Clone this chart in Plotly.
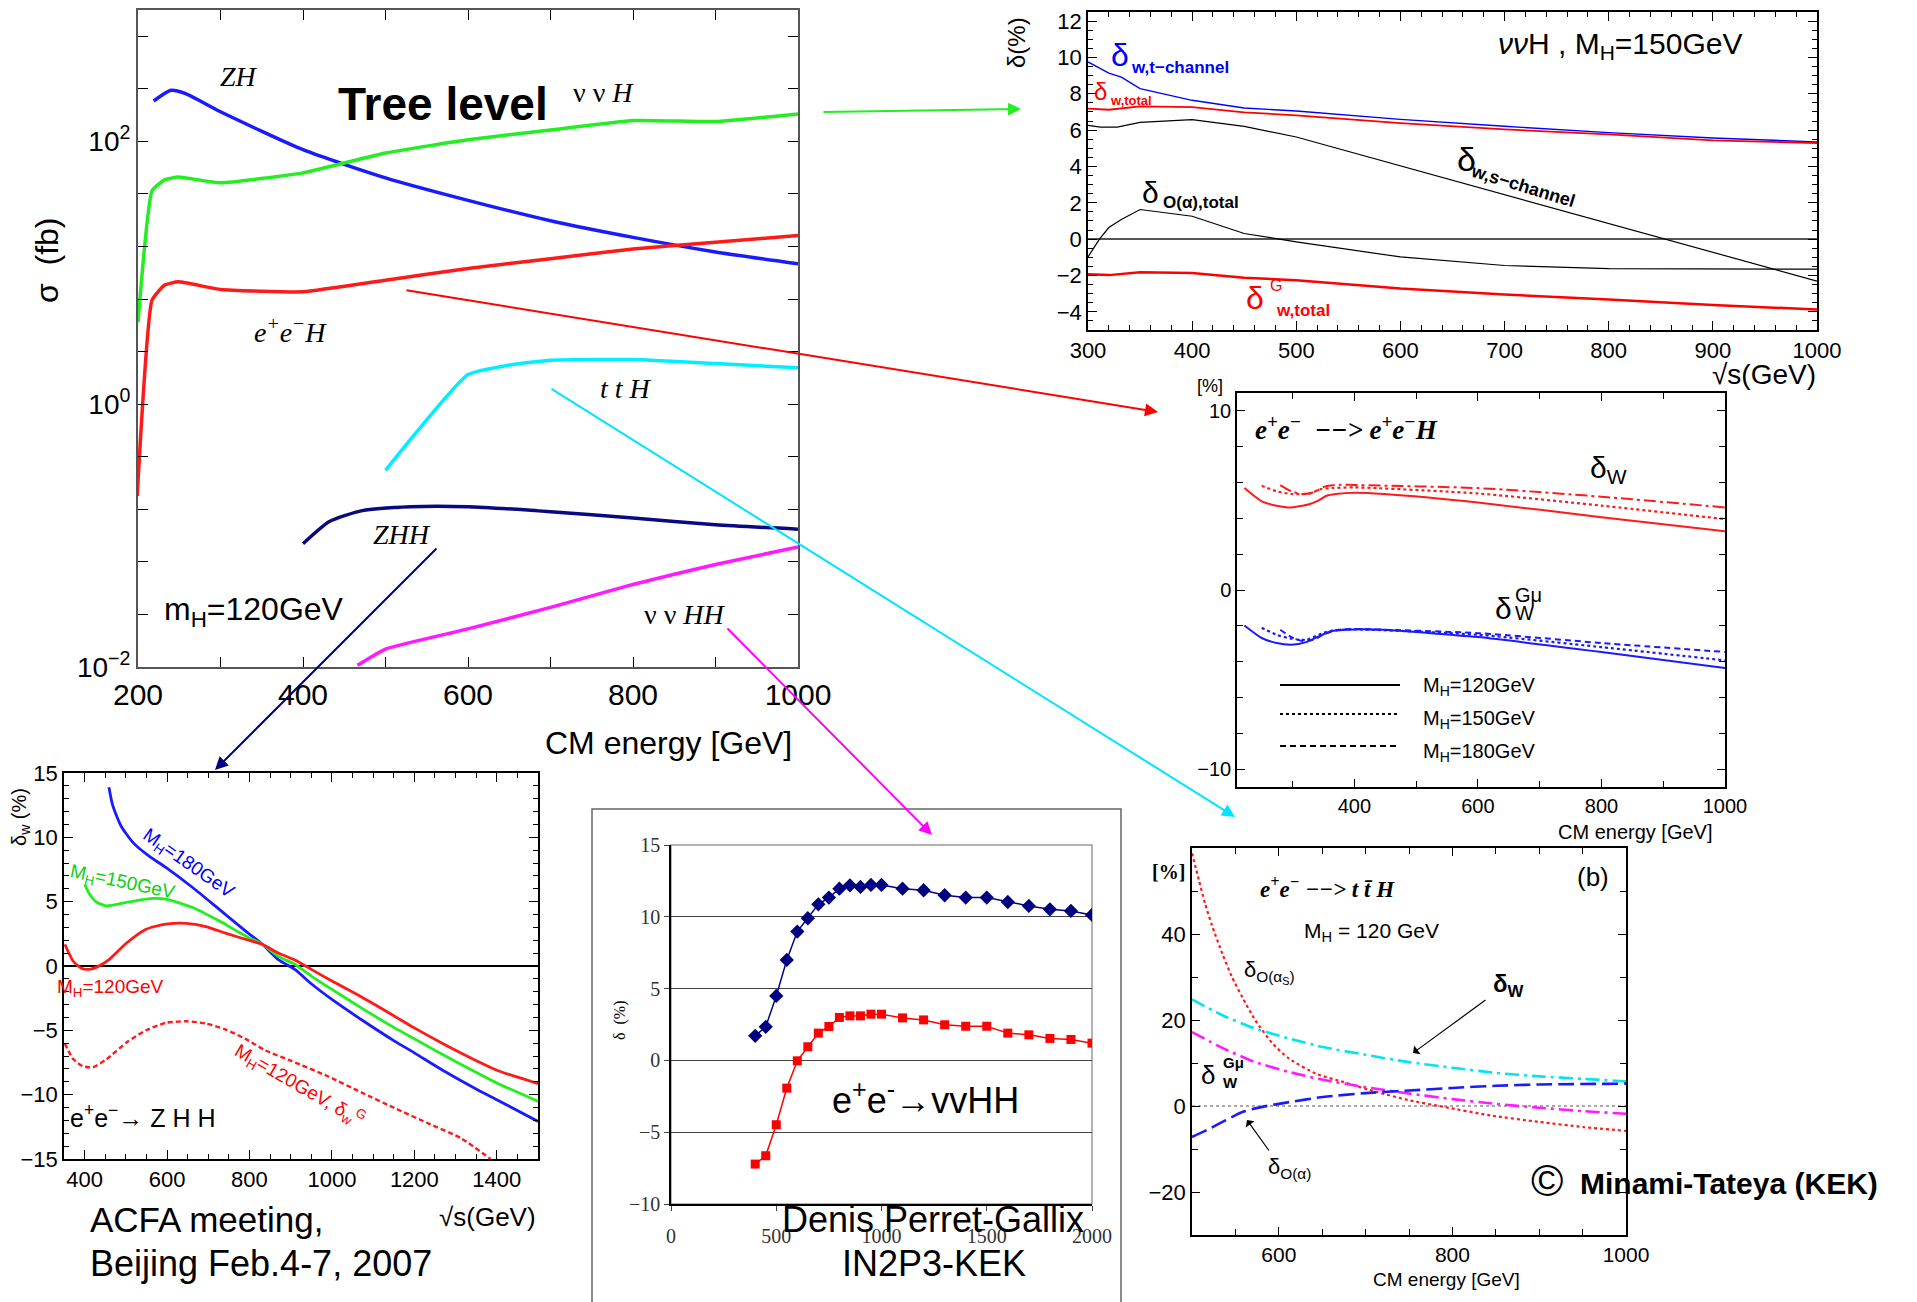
import plotly.graph_objects as go

W, H = 1917, 1302
SANS = "Liberation Sans, Arial, Helvetica, sans-serif"
NARROW = "Liberation Sans Narrow, Arial Narrow, Liberation Sans, Arial, sans-serif"
SERIF = "Liberation Serif, Times New Roman, Times, serif"

# ---------- Panel A: tree-level cross sections sigma (fb), m_H = 120 GeV ----------
zh_e = [219, 240, 257, 300, 400, 500, 600, 700, 800, 900, 1000]
zh_sig = [203, 245, 232, 168, 86.5, 52.8, 35.6, 24.9, 18.6, 14.4, 11.7]
nnh_e = [200, 217, 232, 249, 300, 400, 500, 600, 700, 800, 900, 1000]
nnh_sig = [4.2, 42, 51, 53.5, 48.4, 57.6, 81.6, 103, 122, 144, 141.6, 162]
eeh_e = [199, 217, 232, 249, 300, 400, 500, 600, 700, 800, 900, 1000]
eeh_sig = [0.2, 6.2, 8.05, 8.53, 7.47, 7.17, 8.78, 10.8, 12.8, 15.2, 17.1, 19.2]
tth_e = [500, 600, 653, 700, 800, 900, 1000]
tth_sig = [0.314, 1.68, 2.0, 2.16, 2.19, 2.04, 1.89]
zhh_e = [400, 432, 472, 530, 600, 700, 800, 900, 1000]
zhh_sig = [0.0867, 0.128, 0.155, 0.166, 0.166, 0.152, 0.136, 0.121, 0.112]
nnhh_e = [466, 500, 600, 700, 800, 900, 1000]
nnhh_sig = [0.0103, 0.0137, 0.0195, 0.0284, 0.0425, 0.0603, 0.0819]
sigma_tick_exp = [-2, -1.6, -1.2, -0.8, -0.4, 0, 0.4, 0.8, 1.2, 1.6, 2, 2.4, 2.8]
sigma_tick_text = ["10<sup>−2</sup>", "", "", "", "", "10<sup>0</sup>", "", "", "", "", "10<sup>2</sup>", "", ""]

# ---------- Panel B: nu nu H, M_H = 150 GeV (%) ----------
tch_e = [300, 320, 332, 350, 400, 450, 500, 600, 700, 800, 900, 1000]
tch_d = [9.75, 9.14, 8.92, 8.28, 7.64, 7.22, 7.05, 6.59, 6.21, 5.86, 5.57, 5.35]
wtot_e = [300, 320, 350, 400, 450, 500, 600, 700, 800, 900, 1000]
wtot_d = [7.18, 7.12, 7.31, 7.27, 6.98, 6.81, 6.39, 6.04, 5.77, 5.44, 5.29]
sch_e = [300, 312, 328, 350, 400, 450, 500, 600, 700, 800, 900, 1000]
sch_d = [6.26, 6.17, 6.17, 6.43, 6.58, 6.21, 5.62, 4.03, 2.43, 0.86, -0.76, -2.31]
oa_e = [300, 311, 320, 332, 350, 400, 450, 500, 600, 700, 800, 900, 1000]
oa_d = [-0.98, 0.0, 0.64, 1.08, 1.63, 1.26, 0.31, -0.15, -0.98, -1.45, -1.62, -1.65, -1.65]
gtot_e = [300, 320, 350, 400, 450, 500, 600, 700, 800, 900, 1000]
gtot_d = [-1.93, -1.98, -1.82, -1.86, -2.13, -2.26, -2.72, -3.05, -3.32, -3.63, -3.87]

# ---------- Panel C: e+e- -> e+e-H (%) ----------
c_r120_e = [222, 250, 274, 298, 328, 343, 355, 370, 400, 448, 600, 800, 1000]
c_r120_d = [5.69, 4.95, 4.71, 4.61, 4.80, 5.02, 5.26, 5.36, 5.43, 5.36, 4.89, 4.06, 3.28]
c_r150_e = [250, 274, 298, 328, 346, 364, 400, 600, 800, 1000]
c_r150_d = [5.82, 5.51, 5.36, 5.39, 5.64, 5.69, 5.73, 5.39, 4.71, 3.96]
c_r180_e = [280, 298, 316, 334, 352, 376, 400, 600, 800, 1000]
c_r180_d = [5.86, 5.51, 5.36, 5.45, 5.77, 5.88, 5.86, 5.69, 5.21, 4.61]
c_b120_e = [222, 250, 274, 298, 322, 346, 364, 400, 448, 600, 800, 1000]
c_b120_d = [-1.98, -2.68, -2.96, -3.06, -2.91, -2.53, -2.29, -2.20, -2.22, -2.63, -3.46, -4.36]
c_b150_e = [250, 274, 298, 322, 346, 364, 400, 600, 800, 1000]
c_b150_d = [-2.11, -2.50, -2.72, -2.78, -2.44, -2.26, -2.20, -2.50, -3.19, -3.93]
c_b180_e = [280, 298, 316, 334, 352, 376, 400, 600, 800, 1000]
c_b180_d = [-2.22, -2.63, -2.85, -2.78, -2.44, -2.22, -2.18, -2.41, -2.96, -3.46]
legend_labels = ["M<sub>H</sub>=120GeV", "M<sub>H</sub>=150GeV", "M<sub>H</sub>=180GeV"]

# ---------- Panel D: e+e- -> ZHH (%) ----------
d180_e = [459, 468, 488, 517, 553, 597, 662, 726, 790, 831, 871, 910, 950, 1000,
          1071, 1152, 1200, 1273, 1353, 1400, 1500]
d180_d = [13.9, 12.5, 10.9, 9.61, 8.62, 7.66, 6.10, 4.42, 2.73, 1.69, 0.47, -0.26, -1.38, -2.60,
          -4.16, -5.84, -6.75, -8.18, -9.61, -10.39, -12.08]
d150_e = [400, 412, 428, 452, 501, 565, 597, 662, 726, 790, 831, 871, 910, 950, 1000,
          1071, 1152, 1200, 1273, 1353, 1400, 1500]
d150_d = [6.36, 5.58, 4.99, 4.68, 4.94, 5.25, 5.19, 4.55, 3.51, 2.34, 1.69, 0.73, 0.13, -0.78, -1.82,
          -3.25, -4.81, -5.66, -6.96, -8.31, -9.09, -10.52]
d120_e = [352, 372, 392, 412, 432, 460, 501, 549, 597, 646, 694, 742, 790, 831, 871, 910, 950, 1000,
          1071, 1152, 1200, 1273, 1353, 1400, 1500]
d120_d = [1.69, 0.39, -0.18, -0.26, -0.05, 0.52, 1.77, 2.86, 3.25, 3.32, 3.06, 2.55, 2.08, 1.69, 0.99,
          0.47, -0.26, -1.17, -2.39, -3.90, -4.81, -6.10, -7.40, -8.10, -9.14]
d120g_e = [352, 372, 396, 420, 452, 501, 549, 597, 646, 694, 742, 790, 839, 903, 990,
           1071, 1152, 1232, 1313, 1385]
d120g_d = [-6.03, -7.22, -7.79, -7.87, -7.27, -5.97, -4.99, -4.42, -4.29, -4.47, -4.94, -5.66, -6.57,
           -7.4, -8.57, -9.82, -11.04, -12.21, -13.38, -15.0]

# ---------- Panel E: e+e- -> vvHH (%) ----------
e_e = [400, 450, 500, 550, 600, 650, 700, 750, 800, 850, 900, 950, 1000,
       1100, 1200, 1300, 1400, 1500, 1600, 1700, 1800, 1900, 2000]
e_blue = [1.71, 2.34, 4.49, 7.0, 8.97, 9.90, 10.87, 11.34, 11.96, 12.19, 12.08, 12.22, 12.22,
          11.96, 11.85, 11.50, 11.34, 11.34, 11.03, 10.76, 10.52, 10.41, 10.13]
e_red = [-7.22, -6.64, -4.48, -1.93, -0.03, 0.95, 1.90, 2.36, 2.99, 3.10, 3.10, 3.22, 3.22,
         2.96, 2.82, 2.48, 2.38, 2.38, 1.90, 1.78, 1.53, 1.46, 1.20]

# ---------- Panel F: e+e- -> ttH, M_H = 120 GeV (%) ----------
f_as_e = [500, 508, 515, 523, 535, 546, 558, 573, 593, 612, 643, 674, 712, 751, 790, 844, 900, 951, 1000]
f_as_d = [58.8, 52.5, 47.1, 42.0, 35.4, 30.0, 25.3, 19.9, 14.5, 11.0, 7.5, 5.6, 3.3, 1.3, -0.2, -2.2,
          -3.7, -4.9, -5.8]
f_w_e = [500, 535, 573, 612, 651, 700, 750, 800, 850, 900, 951, 1000]
f_w_d = [24.8, 21.1, 18.0, 15.7, 13.7, 11.9, 10.2, 8.9, 7.7, 6.9, 6.3, 5.7]
f_wg_d = [17.2, 13.5, 10.2, 7.9, 6.1, 4.4, 2.9, 1.6, 0.5, -0.4, -1.2, -1.8]
f_a_e = [500, 519, 539, 558, 581, 612, 651, 700, 750, 800, 850, 900, 1000]
f_a_d = [-7.2, -5.4, -3.3, -1.4, -0.2, 0.9, 2.1, 3.0, 3.6, 4.2, 4.7, 5.0, 5.2]


def xd(a, b):
    return [a / W, b / W]


def yd(top, bottom):
    return [1 - bottom / H, 1 - top / H]


fig = go.Figure()


def line(x, y, ax, color, width, dash="solid", shape="spline", smoothing=0.6, **kw):
    fig.add_trace(go.Scatter(x=x, y=y, xaxis="x" + ax, yaxis="y" + ax, mode="lines",
                             line=dict(color=color, width=width, dash=dash, shape=shape,
                                       smoothing=smoothing if shape == "spline" else None),
                             hoverinfo="skip", **kw))


# Panel A
line(zh_e, zh_sig, "", "#1a1aff", 3.5)
line(nnh_e, nnh_sig, "", "#22ee22", 3.5, smoothing=0.4)
line(eeh_e, eeh_sig, "", "#ff1a1a", 3.5, smoothing=0.4)
line(tth_e, tth_sig, "", "#00eeff", 3.5, smoothing=0.4)
line(zhh_e, zhh_sig, "", "#0a0a80", 3.5)
line(nnhh_e, nnhh_sig, "", "#ff1aff", 3.5, smoothing=0.4)

# Panel B
line(tch_e, tch_d, "2", "#0000ff", 1.4, shape="linear")
line(wtot_e, wtot_d, "2", "#ff0000", 1.8, shape="linear")
line(sch_e, sch_d, "2", "black", 1.2, shape="linear")
line(oa_e, oa_d, "2", "black", 1.2, shape="linear")
line(gtot_e, gtot_d, "2", "#ff0000", 2.5, shape="linear")

# Panel C
line(c_r120_e, c_r120_d, "3", "#ff1a1a", 2)
line(c_r150_e, c_r150_d, "3", "#ff1a1a", 2.2, dash="dot")
line(c_r180_e, c_r180_d, "3", "#ff1a1a", 2, dash="12px,4px,3px,4px")
line(c_b120_e, c_b120_d, "3", "#1a1aff", 2)
line(c_b150_e, c_b150_d, "3", "#1a1aff", 2.2, dash="dot")
line(c_b180_e, c_b180_d, "3", "#1a1aff", 2, dash="6px,4px")

# Panel D
line(d180_e, d180_d, "4", "#1a1aff", 2.8)
line(d150_e, d150_d, "4", "#22ee22", 2.8)
line(d120_e, d120_d, "4", "#ff1a1a", 2.8)
line(d120g_e, d120g_d, "4", "#ff1a1a", 2.4, dash="5px,3px")

# Panel E
fig.add_trace(go.Scatter(x=e_e, y=e_blue, xaxis="x5", yaxis="y5", mode="lines+markers",
                         line=dict(color="#000080", width=1.5),
                         marker=dict(symbol="diamond", size=11, color="#000080"), hoverinfo="skip"))
fig.add_trace(go.Scatter(x=e_e, y=e_red, xaxis="x5", yaxis="y5", mode="lines+markers",
                         line=dict(color="#ff0000", width=1.5),
                         marker=dict(symbol="square", size=9, color="#ff0000"), hoverinfo="skip"))

# Panel F
line(f_as_e, f_as_d, "6", "#ff1a1a", 2.2, dash="dot")
line(f_w_e, f_w_d, "6", "#00e5ee", 2.6, dash="14px,5px,3px,5px")
line(f_w_e, f_wg_d, "6", "#ff1aff", 2.6, dash="14px,5px,3px,5px")
line(f_a_e, f_a_d, "6", "#1a1aff", 2.6, dash="16px,6px")


def ax_common(**kw):
    d = dict(showline=True, linecolor="black", linewidth=1.5, mirror="ticks", ticks="inside",
             showgrid=False, zeroline=False, tickcolor="black", automargin=False)
    d.update(kw)
    return d


layout = dict(
    width=W, height=H, margin=dict(l=0, r=0, t=0, b=0, pad=0, autoexpand=False),
    paper_bgcolor="white", plot_bgcolor="rgba(0,0,0,0)", showlegend=False,
    # A
    xaxis=ax_common(domain=xd(138, 798), range=[200, 1000], anchor="y",
                    tickvals=[200, 400, 600, 800, 1000], ticklen=10, linecolor="#555", linewidth=2,
                    tickfont=dict(family=SANS, size=30, color="black"),
                    minor=dict(ticks="inside", dtick=100, ticklen=10, tickcolor="black")),
    yaxis=ax_common(domain=yd(10, 667), type="log", range=[-2, 3], anchor="x",
                    tickvals=[10 ** v for v in sigma_tick_exp], ticktext=sigma_tick_text,
                    ticklen=10, linecolor="#555", linewidth=2,
                    tickfont=dict(family=SANS, size=28, color="black")),
    # B
    xaxis2=ax_common(domain=xd(1088, 1817), range=[300, 1000], anchor="y2", dtick=100, ticklen=9,
                     tickfont=dict(family=NARROW, size=22, color="black"),
                     minor=dict(ticks="inside", dtick=20, ticklen=5, tickcolor="black")),
    yaxis2=ax_common(domain=yd(12, 330), range=[-5, 12.5], anchor="x2",
                     tickvals=[-4, -2, 0, 2, 4, 6, 8, 10, 12], ticklen=9,
                     zeroline=True, zerolinecolor="#555", zerolinewidth=1.6,
                     tickfont=dict(family=NARROW, size=22, color="black"),
                     minor=dict(ticks="inside", dtick=0.5, ticklen=5, tickcolor="black")),
    # C
    xaxis3=ax_common(domain=xd(1237, 1725), range=[210, 1000], anchor="y3",
                     tickvals=[400, 600, 800, 1000], ticklen=8,
                     tickfont=dict(family=SANS, size=20, color="black"),
                     minor=dict(ticks="inside", dtick=100, ticklen=6, tickcolor="black")),
    yaxis3=ax_common(domain=yd(393, 787), range=[-11, 11], anchor="x3",
                     tickvals=[-10, 0, 10], ticklen=8,
                     tickfont=dict(family=SANS, size=20, color="black"),
                     minor=dict(ticks="inside", dtick=2, ticklen=6, tickcolor="black")),
    # D
    xaxis4=ax_common(domain=xd(64, 538), range=[350, 1500], anchor="y4",
                     tickvals=[400, 600, 800, 1000, 1200, 1400], ticklen=9,
                     tickfont=dict(family=NARROW, size=22, color="black"),
                     minor=dict(ticks="inside", dtick=50, ticklen=5, tickcolor="black")),
    yaxis4=ax_common(domain=yd(773, 1159), range=[-15, 15], anchor="x4",
                     tickvals=[-15, -10, -5, 0, 5, 10, 15], ticklen=9,
                     zeroline=True, zerolinecolor="black", zerolinewidth=2,
                     tickfont=dict(family=NARROW, size=22, color="black"),
                     minor=dict(ticks="inside", dtick=1, ticklen=5, tickcolor="black")),
    # E
    xaxis5=dict(domain=xd(671, 1092), range=[0, 2000], anchor="y5", tickvals=[0, 500, 1000, 1500, 2000],
                showline=True, linecolor="black", linewidth=1.5, mirror=False, ticks="outside",
                ticklen=5, showgrid=False, zeroline=False, automargin=False, ticklabelstandoff=8,
                tickfont=dict(family=SERIF, size=20, color="#333")),
    yaxis5=dict(domain=yd(845, 1204), range=[-10, 15], anchor="x5", tickvals=[-10, -5, 0, 5, 10, 15],
                showline=True, linecolor="black", linewidth=1.5, mirror=False, ticks="outside",
                ticklen=5, showgrid=True, gridcolor="#444", gridwidth=1, zeroline=False, automargin=False,
                tickfont=dict(family=SERIF, size=20, color="#333")),
    # F
    xaxis6=ax_common(domain=xd(1192, 1626), range=[500, 1000], anchor="y6",
                     tickvals=[600, 800, 1000], ticklen=8,
                     tickfont=dict(family=NARROW, size=21, color="black"),
                     minor=dict(ticks="inside", dtick=50, ticklen=6, tickcolor="black")),
    yaxis6=ax_common(domain=yd(848, 1235), range=[-30, 60], anchor="x6",
                     tickvals=[-20, 0, 20, 40], ticklen=8,
                     tickfont=dict(family=NARROW, size=22, color="black"),
                     minor=dict(ticks="inside", dtick=10, ticklen=6, tickcolor="black")),
)
fig.update_layout(**layout)


def T(x, y, text, size, family=SANS, color="black", xanchor="center", yanchor="middle", angle=0):
    return dict(x=x / W, y=1 - y / H, xref="paper", yref="paper", text=text, showarrow=False,
                font=dict(size=size, color=color, family=family), xanchor=xanchor,
                yanchor=yanchor, textangle=angle)


def A(x0, y0, x1, y1, color, width=2.0, head=2, size=1.3):
    return dict(x=x1 / W, y=1 - y1 / H, xref="paper", yref="paper", ax=x0 - x1, ay=y0 - y1,
                axref="pixel", ayref="pixel", showarrow=True, arrowhead=head, arrowsize=size,
                arrowwidth=width, arrowcolor=color, text="", standoff=0)


BLUE, RED, GREEN = "#0000ff", "#ff0000", "#10d010"
anns = [
    # Panel A
    T(239, 76, "<i>ZH</i>", 28, SERIF),
    T(443, 104, "<b>Tree level</b>", 46, SANS),
    T(603, 93, "ν ν <i>H</i>", 28, SERIF),
    T(290, 330, "<i>e<sup>+</sup>e<sup>−</sup>H</i>", 28, SERIF),
    T(626, 388, "<i>t t H</i>", 28, SERIF),
    T(402, 534, "<i>ZHH</i>", 28, SERIF),
    T(254, 611, "m<sub>H</sub>=120GeV", 32, SANS),
    T(685, 614, "ν ν <i>HH</i>", 28, SERIF),
    T(47, 260, "σ  (fb)", 32, SANS, angle=-90),
    T(668, 743, "CM energy [GeV]", 32, SANS),
    # Panel B
    T(1120, 55, "δ", 32, NARROW, BLUE),
    T(1129, 67, "<b>w,t−channel</b>", 17, NARROW, BLUE, xanchor="left"),
    T(1100, 92, "δ", 24, NARROW, RED),
    T(1108, 101, "<b>w,total</b>", 13, NARROW, RED, xanchor="left"),
    T(1620, 45, "<i>νν</i>H , M<sub>H</sub>=150GeV", 30, NARROW),
    T(1466, 159, "δ", 34, NARROW),
    T(1523, 186, "<b>w,s−channel</b>", 18, NARROW, angle=17),
    T(1150, 192, "δ", 30, NARROW),
    T(1161, 203, "<b>O(α),total</b>", 17, NARROW, xanchor="left"),
    T(1255, 298, "δ", 32, NARROW, RED),
    T(1268, 285, "G", 16, NARROW, RED, xanchor="left"),
    T(1274, 311, "<b>w,total</b>", 17, NARROW, RED, xanchor="left"),
    T(1017, 43, "δ(%)", 24, NARROW, angle=-90),
    T(1818, 374, "√s(GeV)", 28, NARROW, xanchor="right"),
    # Panel C
    T(1210, 386, "[%]", 18, SANS),
    T(1253, 428, "<b><i>e<sup>+</sup>e<sup>−</sup>  −−> e<sup>+</sup>e<sup>−</sup>H</i></b>", 27, SERIF, xanchor="left"),
    T(1608, 469, "δ<sub>W</sub>", 30, SANS),
    T(1503, 608, "δ", 30, SANS),
    T(1513, 595, "Gμ", 20, SANS, xanchor="left"),
    T(1513, 613, "W", 20, SANS, xanchor="left"),
    T(1421, 686, legend_labels[0], 20, SANS, xanchor="left"),
    T(1421, 719, legend_labels[1], 20, SANS, xanchor="left"),
    T(1421, 752, legend_labels[2], 20, SANS, xanchor="left"),
    T(1635, 832, "CM energy [GeV]", 20, SANS),
    # Panel D
    T(188, 864, "M<sub>H</sub>=180GeV", 19, NARROW, BLUE, angle=35),
    T(123, 883, "M<sub>H</sub>=150GeV", 19, NARROW, GREEN, angle=12),
    T(110, 988, "M<sub>H</sub>=120GeV", 19, NARROW, RED),
    T(300, 1085, "M<sub>H</sub>=120GeV, δ<sub>w</sub><sup>G</sup>", 19, NARROW, RED, angle=30),
    T(143, 1116, "e<sup>+</sup>e<sup>−</sup>→ Z H H", 25, NARROW),
    T(20, 817, "δ<sub>w</sub> (%)", 20, NARROW, angle=-90),
    T(538, 1217, "√s(GeV)", 26, NARROW, xanchor="right"),
    T(88, 1219, "ACFA meeting,", 35, SANS, xanchor="left"),
    T(88, 1263, "Beijing Feb.4-7, 2007", 36, SANS, xanchor="left"),
    # Panel E
    T(620, 1020, "δ  (%)", 16, SERIF, angle=-90),
    T(925, 1098, "e<sup>+</sup>e<sup>-</sup>→vvHH", 36, SANS),
    T(933, 1219, "Denis Perret-Gallix", 36, SANS),
    T(934, 1263, "IN2P3-KEK", 36, SANS),
    # Panel F
    T(1168, 872, "<b>[%]</b>", 20, SERIF),
    T(1258, 887, "<b><i>e<sup>+</sup>e<sup>−</sup> −−> t t̄ H</i></b>", 23, SERIF, xanchor="left"),
    T(1593, 877, "(b)", 26, SANS),
    T(1371, 932, "M<sub>H</sub> = 120 GeV", 21, SANS),
    T(1269, 972, "δ<sub>O(α<sub>S</sub>)</sub>", 22, SANS),
    T(1508, 985, "<b>δ<sub>W</sub></b>", 24, SANS),
    T(1208, 1075, "δ", 26, SANS),
    T(1221, 1062, "<b>Gμ</b>", 15, SANS, xanchor="left"),
    T(1221, 1082, "<b>W</b>", 15, SANS, xanchor="left"),
    T(1289, 1168, "δ<sub>O(α)</sub>", 22, SANS),
    T(1547, 1180, "©", 44, SANS),
    T(1578, 1183, "<b>Minami-Tateya (KEK)</b>", 30, SANS, xanchor="left"),
    T(1446, 1279, "CM energy [GeV]", 19, NARROW),
    # linking arrows
    A(822, 112, 1021, 109, "#22ee22"),
    A(405, 290, 1158, 412, "#ff0000"),
    A(550, 388, 1235, 817, "#00e5ff"),
    A(438, 547, 215, 770, "#000080"),
    A(726, 627, 932, 835, "#ff00ff"),
    A(1487, 999, 1413, 1053, "black", 1.2, 1, 1.5),
    A(1270, 1152, 1247, 1120, "black", 1.2, 1, 1.5),
]
fig.update_layout(annotations=anns)

shapes = [
    # legend samples in panel C
    dict(type="line", xref="paper", yref="paper", x0=1280 / W, x1=1400 / W, y0=1 - 685 / H, y1=1 - 685 / H,
         line=dict(color="black", width=2)),
    dict(type="line", xref="paper", yref="paper", x0=1280 / W, x1=1400 / W, y0=1 - 714 / H, y1=1 - 714 / H,
         line=dict(color="black", width=2, dash="dot")),
    dict(type="line", xref="paper", yref="paper", x0=1280 / W, x1=1400 / W, y0=1 - 746 / H, y1=1 - 746 / H,
         line=dict(color="black", width=2, dash="6px,4px")),
    # panel E frames
    dict(type="rect", xref="paper", yref="paper", x0=592 / W, x1=1121 / W, y0=-0.01, y1=1 - 809 / H,
         line=dict(color="#666", width=1.5), layer="below"),
    dict(type="rect", xref="x5 domain", yref="y5 domain", x0=0, x1=1, y0=0, y1=1,
         line=dict(color="#999", width=1.5), layer="below"),
    # panel F dotted zero line
    dict(type="line", xref="x6 domain", yref="y6", x0=0, x1=1, y0=0, y1=0,
         line=dict(color="#555", width=1, dash="dot"), layer="below"),
]
fig.update_layout(shapes=shapes)

fig.write_html("out.html")
